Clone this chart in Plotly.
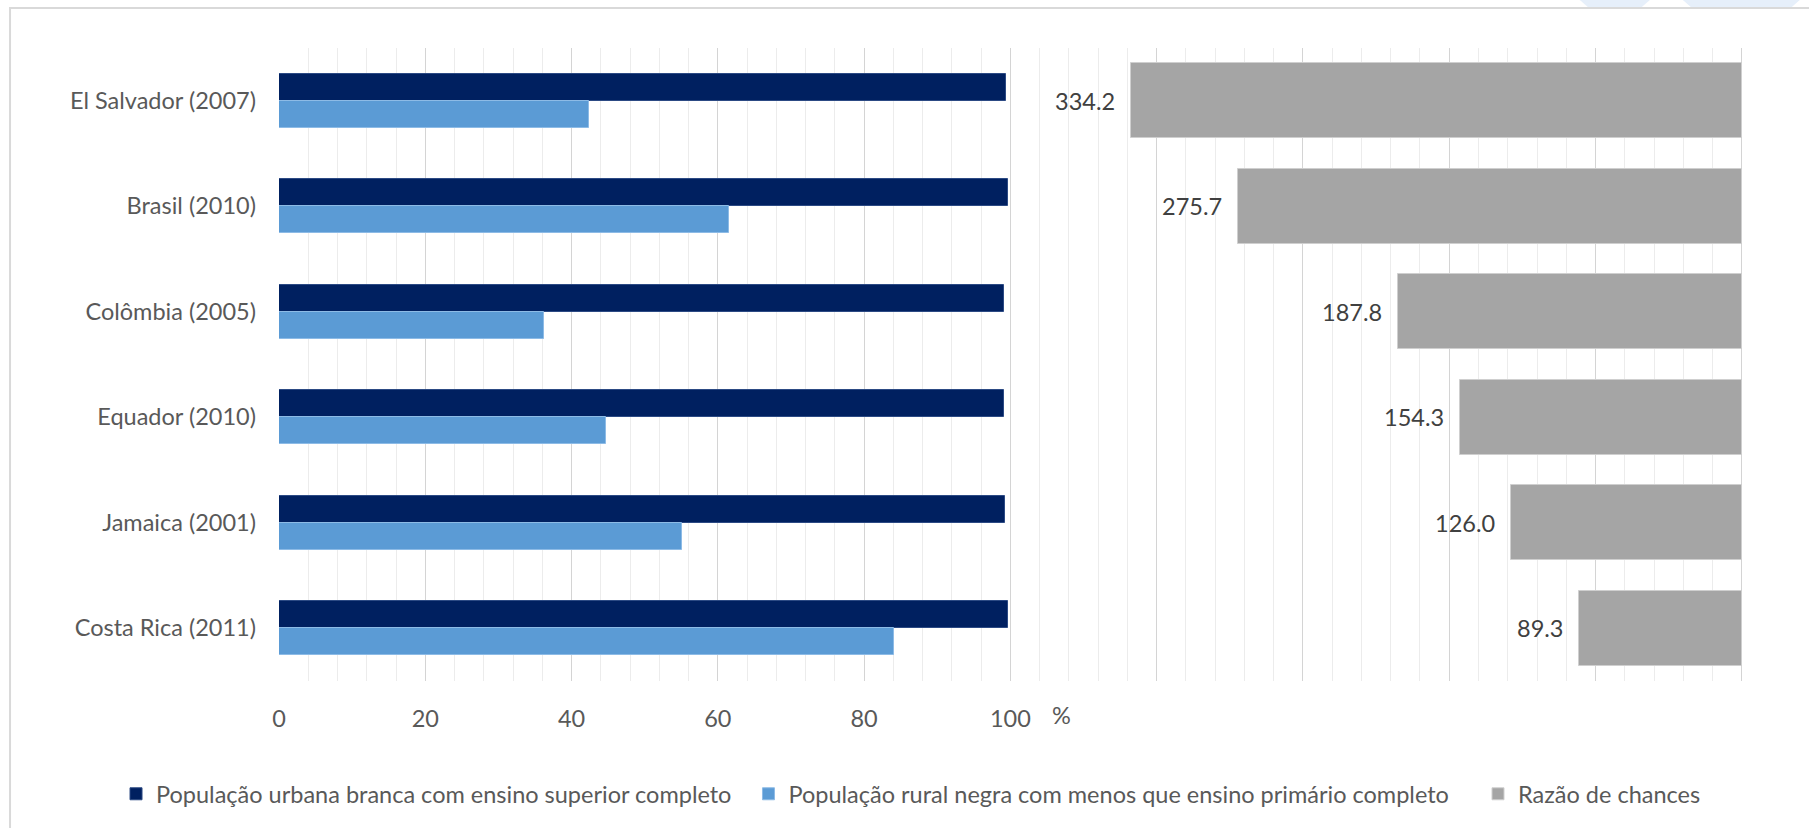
import plotly.graph_objects as go

# Country / census year, top to bottom
categories = [
    "El Salvador (2007)",
    "Brasil (2010)",
    "Colômbia (2005)",
    "Equador (2010)",
    "Jamaica (2001)",
    "Costa Rica (2011)",
]
urbana_branca = [99.4, 99.7, 99.1, 99.1, 99.2, 99.7]   # %
rural_negra = [42.4, 61.5, 36.2, 44.7, 55.1, 84.1]     # %
razao_chances = [334.2, 275.7, 187.8, 154.3, 126.0, 89.3]

pct_ticks = [0, 20, 40, 60, 80, 100]
series_names = [
    "População urbana branca com ensino superior completo",
    "População rural negra com menos que ensino primário completo",
    "Razão de chances",
]

W, H = 1809, 828
L, X200, T, B = 279, 1742, 48, 681   # pixel positions of x=0, x=200, top, bottom
XMAX = 200.3                          # a little room so the x=200 gridline is drawn
R = L + (X200 - L) * XMAX / 200
RATIO_SCALE = 4                       # odds-ratio axis units per % unit

def px(x):
    return (x - L) / (R - L)

def py(y):
    return (B - y) / (B - T)

FONT = "Lato, 'Liberation Sans', Arial, sans-serif"
FS = 23.5
TXT = "#595959"
NBSP = "\u00a0"

fig = go.Figure()

fig.add_trace(go.Bar(
    y=categories, x=urbana_branca, orientation="h", name=series_names[0] + NBSP * 2,
    marker=dict(color="#002060", line=dict(color="#2c4a84", width=1)),
    width=0.255, offset=-0.255, xaxis="x", yaxis="y",
))
fig.add_trace(go.Bar(
    y=categories, x=rural_negra, orientation="h", name=series_names[1] + NBSP * 4,
    marker=dict(color="#5B9BD5", line=dict(color="#8dbbe6", width=1)),
    width=0.255, offset=0.0, xaxis="x", yaxis="y",
))
fig.add_trace(go.Bar(
    y=categories, x=razao_chances, orientation="h", name=series_names[2],
    marker=dict(color="#A5A5A5", line=dict(color="#cfcfcf", width=1)),
    width=0.71, offset=-0.355, xaxis="x2", yaxis="y",
))

# value labels to the left of the odds-ratio bars
for cat, v in zip(categories, razao_chances):
    fig.add_annotation(
        x=v, y=cat, xref="x2", yref="y", text=f"{v:.1f}",
        showarrow=False, xanchor="right", yanchor="middle", xshift=-14,
        font=dict(family=FONT, size=FS, color="#404040"),
    )

# percent unit next to the last tick label
fig.add_annotation(
    x=107, y=py(715), xref="x", yref="paper", text="%", showarrow=False,
    xanchor="center", yanchor="middle",
    font=dict(family=FONT, size=FS, color=TXT),
)

# outer frame
fig.add_shape(
    type="rect", xref="paper", yref="paper",
    x0=px(10), x1=px(1830), y0=py(850), y1=py(8),
    line=dict(color="#d9d9d9", width=2), fillcolor="rgba(0,0,0,0)", layer="below",
)
# faint decoration in the top-right corner
for x0, x1 in ((1580, 1650), (1683, 1800)):
    fig.add_shape(
        type="path", xref="paper", yref="paper",
        path=(f"M {px(x0)} {py(0)} L {px(x1)} {py(0)} "
              f"L {px(x1 - 8)} {py(7)} L {px(x0 + 8)} {py(7)} Z"),
        line=dict(width=0), fillcolor="#e6effa", layer="below",
    )

fig.update_layout(
    width=W, height=H,
    margin=dict(l=L, r=W - R, t=T, b=H - B),
    paper_bgcolor="white", plot_bgcolor="white",
    font=dict(family=FONT, size=FS, color=TXT),
    barmode="overlay",
    bargap=0,
    showlegend=True,
    legend=dict(
        orientation="h", x=px(116), y=py(794), xanchor="left", yanchor="middle",
        font=dict(family=FONT, size=FS, color=TXT),
        itemclick=False, traceorder="normal",
    ),
    xaxis=dict(
        range=[0, XMAX],
        tickmode="array", tickvals=list(range(0, 201, 20)),
        ticktext=[str(t) if t in pct_ticks else "" for t in range(0, 201, 20)],
        showgrid=True, gridcolor="#d4d4d4", gridwidth=1,
        minor=dict(dtick=4, tick0=0, showgrid=True, gridcolor="#ececec", gridwidth=1),
        zeroline=False, showline=False, ticks="",
        ticklabelstandoff=21,
        tickfont=dict(family=FONT, size=FS, color=TXT),
        fixedrange=True,
    ),
    xaxis2=dict(
        range=[200 * RATIO_SCALE, (200 - XMAX) * RATIO_SCALE],
        overlaying="x", anchor="y", side="top",
        showgrid=False, showticklabels=False, zeroline=False, showline=False,
        ticks="", fixedrange=True,
    ),
    yaxis=dict(
        type="category", categoryorder="array", categoryarray=categories,
        range=[5.5, -0.5], showgrid=False, zeroline=False,
        showline=False, ticks="", ticklabelstandoff=22,
        tickfont=dict(family=FONT, size=FS, color=TXT),
        fixedrange=True,
    ),
)

fig.write_html("out.html")
